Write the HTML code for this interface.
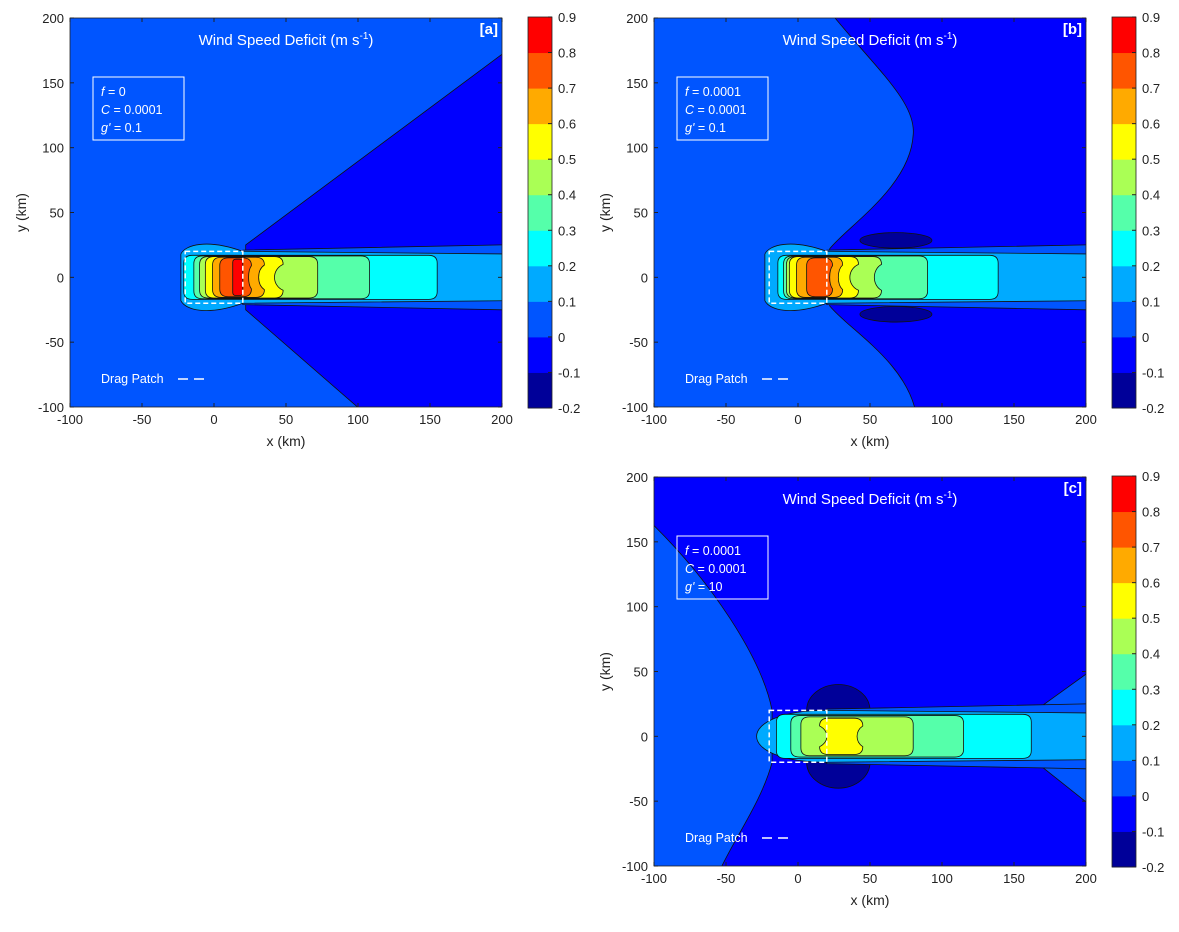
<!DOCTYPE html>
<html><head><meta charset="utf-8"><style>
body{margin:0;background:#fff;font-family:"Liberation Sans",Arial,sans-serif}
svg text{font-family:"Liberation Sans",Arial,sans-serif}
</style></head><body>
<svg id="fig" width="1179" height="927" viewBox="0 0 1179 927" xmlns="http://www.w3.org/2000/svg"></svg>
<script>
const levels = [-0.2,-0.1,0,0.1,0.2,0.3,0.4,0.5,0.6,0.7,0.8,0.9];
const colors = ["#000099","#0000ff","#0055ff","#00aaff","#00ffff","#55ffaa","#aaff55","#ffff00","#ffaa00","#ff5500","#ff0000"];
const xTicks = [-100,-50,0,50,100,150,200];
const yTicks = [-100,-50,0,50,100,150,200];
// contour extents per level 0.2..0.9: [left x, right x, half-width, right concavity, left concavity] (km)
const wakeA = [[-21,155,17,0,0],[-14,108,16.5,0,0],[-10,72,16,0,0],[-6,48,16,6,0],[-1,35,15.5,4,0],[4,26,15,2,0],[13,20,14,0,0]];
const wakeB = [[-14,139,17,0,0],[-10,90,16.5,0,0],[-8,58,16,5,0],[-6,42,16,6,0],[-1,31,15.5,3,0],[6,24,15,2,0]];
const wakeC = [[-15,162,17,0,0],[-5,115,16,0,0],[2,80,15,0,0],[15,45,14,4,5]];
const panels = [
 {id:"a",L:70,T:18,label:"[a]",f:"0",g:"0.1",wake:wakeA},
 {id:"b",L:654,T:18,label:"[b]",f:"0.0001",g:"0.1",wake:wakeB},
 {id:"c",L:654,T:477,label:"[c]",f:"0.0001",g:"10",wake:wakeC}
];
const W=432,H=389;
const svg=document.getElementById('fig');
const NS="http://www.w3.org/2000/svg";
function el(tag,attrs,parent,txt){const e=document.createElementNS(NS,tag);for(const k in attrs)e.setAttribute(k,attrs[k]);if(txt!==undefined)e.textContent=txt;(parent||svg).appendChild(e);return e;}

panels.forEach(p=>{
  const X=x=>p.L+(x+100)/300*W, Y=y=>p.T+(200-y)/300*H;
  const g=el('g',{});
  
  
  const clipId='clip'+p.id;
  const cp=el('clipPath',{id:clipId},g); el('rect',{x:p.L,y:p.T,width:W,height:H},cp);
  const pg=el('g',{'clip-path':'url(#'+clipId+')'},g);
  
  
  const stroke={stroke:"#111","stroke-width":0.8};
  const bg=el('rect',{x:p.L,y:p.T,width:W,height:H,fill:colors[2]},pg);
  
  
  const P=pts=>pts.map((q,i)=>(i?'L':'M')+X(q[0]).toFixed(1)+','+Y(q[1]).toFixed(1)).join(' ');
  let neg;
  if(p.id==="a"){
    neg=el('path',Object.assign({d:P([[22,25],[200,172],[250,172],[250,-250],[110,-110],[22,-25]])+'Z',fill:colors[1]},stroke),pg);
  } else if(p.id==="b"){
    neg=el('path',Object.assign({d:`M${X(22)},${Y(205)} C${X(55)},${Y(160)} ${X(82)},${Y(135)} ${X(80)},${Y(110)} C${X(78)},${Y(70)} ${X(35)},${Y(40)} ${X(22)},${Y(22)} L${X(22)},${Y(-22)} C${X(35)},${Y(-40)} ${X(75)},${Y(-65)} ${X(82)},${Y(-105)} L${X(250)},${Y(-105)} L${X(250)},${Y(205)} Z`,fill:colors[1]},stroke),pg);
  } else {
    neg=el('path',Object.assign({d:`M${X(-105)},${Y(168)} C${X(-60)},${Y(120)} ${X(-25)},${Y(60)} ${X(-18)},${Y(20)} L${X(-18)},${Y(-20)} C${X(-25)},${Y(-50)} ${X(-45)},${Y(-80)} ${X(-55)},${Y(-105)} L${X(250)},${Y(-105)} L${X(250)},${Y(205)} L${X(-105)},${Y(205)} Z`,fill:colors[1]},stroke),pg);
    el('path',Object.assign({d:P([[140,20],[170,24],[205,52],[205,-55],[170,-24],[140,-20]])+'Z',fill:colors[2]},stroke),pg);
    [1,-1].forEach(s=>{const e=el('ellipse',Object.assign({cx:X(28),cy:Y(20*s),rx:22*W/300,ry:20*H/300,fill:colors[0]},stroke),pg);
      });
  }
  
  
  if(p.id==="b"){[1,-1].forEach(s=>{const e=el('ellipse',Object.assign({cx:X(68),cy:Y(28.5*s),rx:25*W/300,ry:6*H/300,fill:colors[0]},stroke),pg);
    });}
  el('path',Object.assign({d:P([[20,21],[200,25],[205,25],[205,-25],[200,-25],[20,-21]])+'Z',fill:colors[2]},stroke),pg);
  const wb=el('path',Object.assign({d:`M${X(205)},${Y(18)} L${X(20)},${Y(20)} ${p.id==="c"?`C${X(-45)},${Y(20)} ${X(-45)},${Y(-20)} ${X(20)},${Y(-20)}`:`C${X(-5)},${Y(30)} ${X(-20)},${Y(25)} ${X(-23)},${Y(18)} L${X(-23)},${Y(-18)} C${X(-20)},${Y(-25)} ${X(-5)},${Y(-30)} ${X(20)},${Y(-20)}`} L${X(205)},${Y(-18)} Z`,fill:colors[3]},stroke),pg);
  
  
  p.wake.forEach((w,i)=>{
    const [x0,x1,h,cr,cl]=w; const r=Math.min(6,(x1-x0)/3);
    const k=1.33;
    const d=`M${X(x0+r)},${Y(h)} L${X(x1-r)},${Y(h)} Q${X(x1)},${Y(h)} ${X(x1)},${Y(h-r)} `+
      `C${X(x1-cr*k)},${Y(h-r-4)} ${X(x1-cr*k)},${Y(-h+r+4)} ${X(x1)},${Y(-h+r)} `+
      `Q${X(x1)},${Y(-h)} ${X(x1-r)},${Y(-h)} L${X(x0+r)},${Y(-h)} Q${X(x0)},${Y(-h)} ${X(x0)},${Y(-h+r)} `+
      `C${X(x0+cl*k)},${Y(-h+r+4)} ${X(x0+cl*k)},${Y(h-r-4)} ${X(x0)},${Y(h-r)} Q${X(x0)},${Y(h)} ${X(x0+r)},${Y(h)} Z`;
    const e=el('path',Object.assign({d,fill:colors[4+i]},stroke),pg);
    
    
  });
  const dp=el('rect',{x:X(-20),y:Y(20),width:40*W/300,height:40*H/300,fill:"none",stroke:"#fff","stroke-width":1.5,"stroke-dasharray":"5,3"},g);
  
  
  el('rect',{x:p.L,y:p.T,width:W,height:H,fill:"none",stroke:"#222","stroke-width":0.8},g);
  xTicks.forEach(t=>{
    el('line',{x1:X(t),x2:X(t),y1:p.T+H,y2:p.T+H-4,stroke:"#222"},g);
    el('line',{x1:X(t),x2:X(t),y1:p.T,y2:p.T+4,stroke:"#222"},g);
    const tx=el('text',{x:X(t),y:p.T+H+17,"font-size":13,"text-anchor":"middle",fill:"#222"},g,String(t));
    
  });
  yTicks.forEach(t=>{
    el('line',{x1:p.L,x2:p.L+4,y1:Y(t),y2:Y(t),stroke:"#222"},g);
    el('line',{x1:p.L+W,x2:p.L+W-4,y1:Y(t),y2:Y(t),stroke:"#222"},g);
    const tx=el('text',{x:p.L-6,y:Y(t)+5,"font-size":13,"text-anchor":"end",fill:"#222"},g,String(t));
    
  });
  const xt=el('text',{x:p.L+W/2,y:p.T+H+39,"font-size":14,"text-anchor":"middle",fill:"#222"},g,"x (km)");
  
  const yt=el('text',{x:0,y:0,"font-size":14,"text-anchor":"middle",fill:"#222",transform:`translate(${p.L-44},${p.T+H/2}) rotate(-90)`},g,"y (km)");
  
  const tt=el('text',{x:p.L+W/2,y:p.T+27,"font-size":15,"text-anchor":"middle",fill:"#fff"},g);
  tt.innerHTML='Wind Speed Deficit (m s<tspan dy="-6" font-size="10">-1</tspan><tspan dy="6">)</tspan>';
  
  const lb=el('text',{x:p.L+W-4,y:p.T+16,"font-size":15,"font-weight":"bold","text-anchor":"end",fill:"#fff"},g,p.label);
  
  const box=el('g',{},g);
  
  el('rect',{x:p.L+23,y:p.T+59,width:91,height:63,fill:"none",stroke:"#fff","stroke-width":1},box);
  const t1=el('text',{x:p.L+31,y:p.T+78,"font-size":12.5,fill:"#fff"},box);t1.innerHTML='<tspan font-style="italic">f</tspan> = '+p.f;
  const t2=el('text',{x:p.L+31,y:p.T+96,"font-size":12.5,fill:"#fff"},box);t2.innerHTML='<tspan font-style="italic">C</tspan> = 0.0001';
  const t3=el('text',{x:p.L+31,y:p.T+114,"font-size":12.5,fill:"#fff"},box);t3.innerHTML='<tspan font-style="italic">g\'</tspan> = '+p.g;
  const lg=el('g',{},g);
  
  el('text',{x:p.L+31,y:p.T+365,"font-size":12.5,fill:"#fff"},lg,"Drag Patch");
  el('line',{x1:p.L+108,x2:p.L+140,y1:p.T+361,y2:p.T+361,stroke:"#fff","stroke-width":1.5,"stroke-dasharray":"10,6"},lg);
  const cb=el('g',{},g);
  
  const cx=p.L+W+26, cw=24, ch=391, cy0=p.T-1, step=ch/11;
  colors.forEach((c,i)=>{const r=el('rect',{x:cx,y:cy0+ch-(i+1)*step,width:cw,height:step+0.5,fill:c},cb);
    });
  el('rect',{x:cx,y:cy0,width:cw,height:ch,fill:"none",stroke:"#222","stroke-width":0.8},cb);
  levels.forEach((v,i)=>{const yy=cy0+ch-i*step;
    el('line',{x1:cx+cw-4,x2:cx+cw,y1:yy,y2:yy,stroke:"#222"},cb);
    const t=el('text',{x:cx+cw+6,y:yy+5,"font-size":13,fill:"#222"},cb,String(v));
    });
});
</script>
</body></html>
